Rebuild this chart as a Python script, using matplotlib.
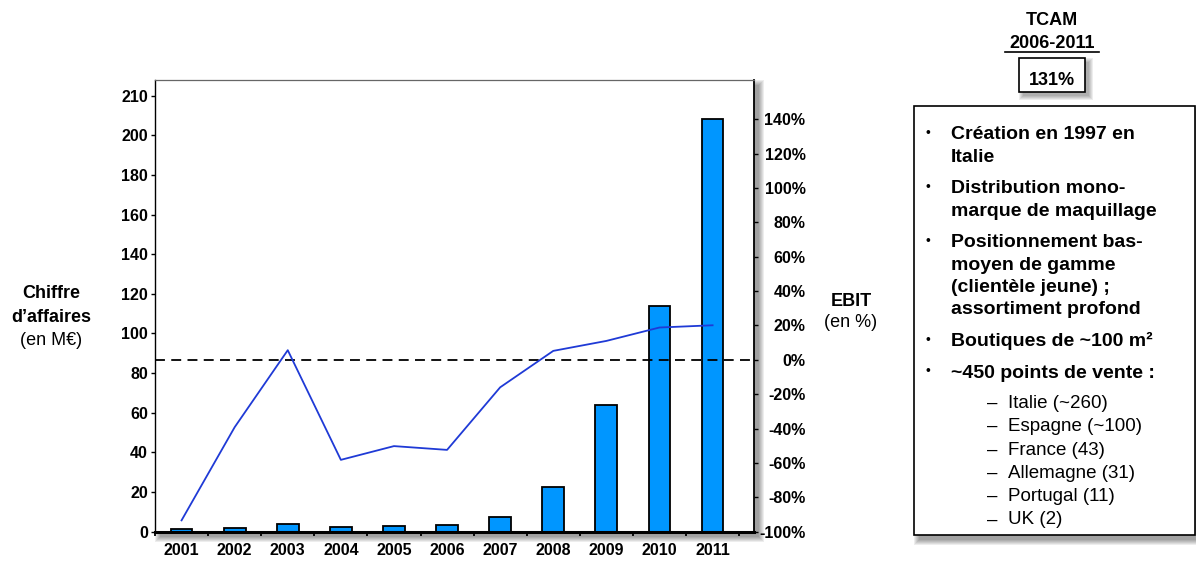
import numpy as np
import matplotlib.pyplot as plt
from matplotlib.patches import Rectangle
from matplotlib.lines import Line2D

plt.rcParams['font.family'] = ['Liberation Sans', 'DejaVu Sans']

# données
years = ['2001', '2002', '2003', '2004', '2005', '2006',
         '2007', '2008', '2009', '2010', '2011']
ca = [1.2, 2.0, 3.9, 2.5, 2.9, 3.2, 7.6, 22.4, 63.9, 113.9, 208.0]        # M€
ebit = [-93.4, -39.2, 5.6, -58.2, -50.2, -52.4, -16.0, 5.2, 11.0, 18.8, 20.1]  # %

ca_ticks = [0, 20, 40, 60, 80, 100, 120, 140, 160, 180, 200, 220]
ca_tick_labels = ['0', '20', '40', '60', '80', '100', '120', '140',
                  '160', '180', '200', '210']
ebit_ticks = [-100, -80, -60, -40, -20, 0, 20, 40, 60, 80, 100, 120, 140]
ebit_tick_labels = [f'{t}%' for t in ebit_ticks]

bullets = [
    ['Création en 1997 en', 'Italie'],
    ['Distribution mono-', 'marque de maquillage'],
    ['Positionnement bas-', 'moyen de gamme', '(clientèle jeune) ;', 'assortiment profond'],
    ['Boutiques de ~100 m²'],
    ['~450 points de vente :'],
]
pays = ['Italie (~260)', 'Espagne (~100)', 'France (43)',
        'Allemagne (31)', 'Portugal (11)', 'UK (2)']
tcam = '131%'

W, H = 1196, 561
fig = plt.figure(figsize=(W / 100, H / 100), dpi=100)


def fx(x):
    return x / W


def fy(y):
    return 1 - y / H


def shadow(x0, y0, x1, y1, off=5, n=6):
    # ombre portée grossière : rectangles superposés, de plus en plus grands
    for k in range(n):
        fig.patches.append(Rectangle(
            (fx(x0 + off - k), fy(y1 + off + k)),
            fx(x1 - x0 + 2 * k), (y1 - y0 + 2 * k) / H,
            transform=fig.transFigure, facecolor='black', edgecolor='none',
            alpha=0.07, zorder=-5))


def box(x0, y0, x1, y1, lw=1.2):
    fig.patches.append(Rectangle(
        (fx(x0), fy(y1)), fx(x1 - x0), (y1 - y0) / H,
        transform=fig.transFigure, facecolor='white', edgecolor='black',
        lw=lw, zorder=-1))


def txt(x, y, s, **kw):
    kw.setdefault('va', 'baseline')
    kw.setdefault('ha', 'left')
    fig.text(fx(x), fy(y), s, **kw)


# --- graphique ---
L, R, T, B = 155, 754, 80, 531.7
shadow(L, T, R, B)
ax = fig.add_axes([fx(L), fy(B), fx(R - L), (B - T) / H])
ax2 = ax.twinx()

x = np.arange(len(years))
ax.bar(x, ca, width=0.41, color='#0096ff', edgecolor='black', lw=1.3, zorder=2)
ax.set_xlim(-0.5, 10.78)
ax.set_ylim(0, 227.9)

ax2.axhline(0, color='black', lw=1.3, ls=(0, (5.5, 3.5)), zorder=2)
ax2.plot(x, ebit, color='#1f3ad6', lw=1.3, zorder=3)
ax2.set_ylim(-99.3, 162.8)

ax.set_xticks(x)
ax.set_xticklabels(years, fontweight='bold', fontsize=11.5)
ax.tick_params(axis='x', which='major', length=0, pad=8)
ax.set_xticks(np.arange(-0.5, 10.6, 1), minor=True)
ax.tick_params(axis='x', which='minor', length=3, width=1.3, direction='out')

ax.set_yticks(ca_ticks)
ax.set_yticklabels(ca_tick_labels, fontweight='bold', fontsize=11.5)
ax.tick_params(axis='y', length=3, width=1, pad=2, direction='out')

ax2.set_yticks(ebit_ticks)
ax2.set_yticklabels(ebit_tick_labels, fontweight='bold', fontsize=11.5)
ax2.tick_params(axis='y', length=3, width=1, pad=34, direction='out')
for lab in ax2.get_yticklabels():
    lab.set_horizontalalignment('right')

for s in ax2.spines.values():
    s.set_visible(False)
ax.spines['top'].set_color('#666666')
ax.spines['top'].set_linewidth(0.9)
ax.spines['left'].set_linewidth(1.0)
ax.spines['right'].set_linewidth(1.3)
ax.spines['bottom'].set_linewidth(2.2)

# titres des axes
txt(51, 298, 'Chiffre', ha='center', fontweight='bold', fontsize=13)
txt(51, 322, 'd’affaires', ha='center', fontweight='bold', fontsize=13)
txt(51, 345, '(en M€)', ha='center', fontsize=13)
txt(851, 306, 'EBIT', ha='center', fontweight='bold', fontsize=13)
txt(851, 327, '(en %)', ha='center', fontsize=13)

# TCAM
txt(1052, 25, 'TCAM', ha='center', fontweight='bold', fontsize=13)
txt(1052, 48, '2006-2011', ha='center', fontweight='bold', fontsize=13)
fig.add_artist(Line2D([fx(1005), fx(1099)], [fy(51.5), fy(51.5)],
                      color='black', lw=1.2))
shadow(1019, 58, 1085, 92, off=4, n=5)
box(1019, 58, 1085, 92)
txt(1052, 85, tcam, ha='center', fontweight='bold', fontsize=13)

# encadré descriptif
shadow(914, 106, 1195, 535, off=5, n=6)
box(914, 106, 1195, 535)
y = 139
for lines in bullets:
    txt(928, y - 2, '•', ha='center', fontsize=10)
    for s in lines:
        txt(951, y, s, fontweight='bold', fontsize=14)
        y += 22.5
    y += 9
y = 408
for s in pays:
    txt(987, y, '–', fontsize=13.5)
    txt(1008, y, s, fontsize=13.5)
    y += 23.3

fig.savefig('out.png', dpi=100)
